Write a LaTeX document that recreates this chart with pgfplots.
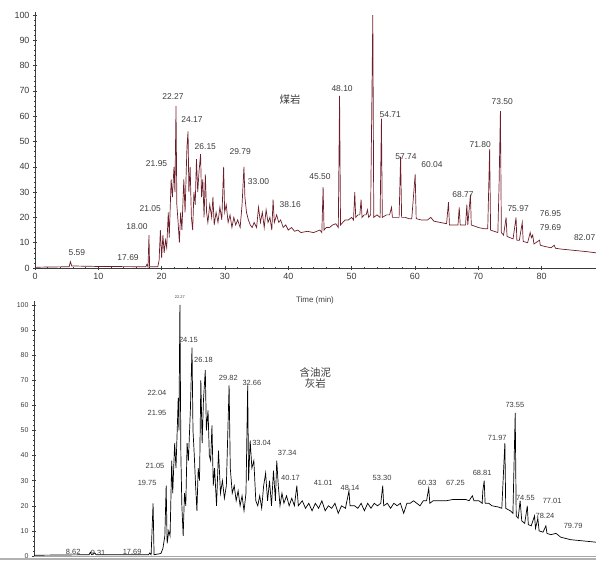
\documentclass[border=0pt]{standalone}
\usepackage{pgfplots}
\pgfplotsset{compat=1.18}
\usepackage{fontspec}
\setmainfont{Liberation Sans}
\newfontfamily\cjk{Noto Sans CJK SC}
\definecolor{trace}{RGB}{110,30,42}
\definecolor{lab}{RGB}{60,60,60}
\tikzset{pk/.style={font=\fontsize{8.5}{9}\selectfont, text=lab, inner sep=0.5pt},
  pkb/.style={font=\fontsize{7.5}{8}\selectfont, text=lab, inner sep=0.5pt}}
\begin{document}
\begin{tikzpicture}[x=1bp,y=1bp]
\useasboundingbox (0,0) rectangle (596,562);
% ---------------- top panel ----------------
\begin{axis}[at={(35bp,294bp)}, anchor=south west, scale only axis,
  width=561bp, height=255.5bp, xmin=0, xmax=88.6, ymin=0, ymax=101,
  axis lines=left, axis line style={-, lab, line width=0.5pt},
  xtick={0,10,...,80}, ytick={0,10,...,100}, minor tick num=4,
  tick align=center, major tick length=4pt, minor tick length=2.5pt,
  tick style={lab, line width=0.4pt},
  ticklabel style={font=\fontsize{9}{10}\selectfont, text=lab},
  /pgf/number format/assume math mode=true, clip=false]
\addplot[trace, line width=0.7pt] coordinates {
(0,0.3)(5.4,0.5)(5.59,2.5)(5.8,0.8)(10,0.6)(17.5,0.5)(17.69,1.5)(17.85,0.4)(18.0,13)(18.1,0.5)(19.4,0.5)(19.6,3)(19.8,15)(20.0,4)(20.2,13)(20.4,6)(20.6,11)(20.8,8)(21.05,22)(21.2,12)(21.5,35)(21.7,28)(21.95,40)(22.1,30)(22.27,64)(22.4,25)(22.6,18)(22.8,10)(23.0,22)(23.2,15)(23.5,35)(23.7,22)(24.0,48)(24.17,54)(24.3,30)(24.5,40)(24.7,20)(24.9,15)(25.1,30)(25.3,25)(25.5,43)(25.7,30)(25.9,38)(26.15,45)(26.3,28)(26.5,35)(26.7,20)(26.9,37)(27.1,22)(27.3,18)(27.6,25)(27.9,20)(28.1,28)(28.3,17)(28.6,22)(28.9,18)(29.2,24)(29.5,19)(29.79,40)(29.95,22)(30.2,25)(30.5,18)(30.8,21)(31.1,16)(31.4,20)(31.7,17)(32.0,19)(32.4,16)(32.7,25)(33.0,40)(33.15,28)(33.4,22)(33.7,19)(34.0,17)(34.3,16)(34.6,18)(35.0,16)(35.3,24)(35.6,18)(35.9,22)(36.2,16)(36.5,23)(36.8,18)(37.1,20)(37.4,15)(37.6,27)(37.8,18)(38.16,21)(38.5,18)(38.8,19)(39.2,16)(39.6,17)(40,15)(40.5,16)(41,14.5)(41.5,15)(42,14)(43,14.5)(44,14)(45,15)(45.3,14)(45.5,32)(45.65,15)(46,16)(46.5,16)(47,17)(47.5,17.5)(47.9,16)(48.1,68)(48.25,17)(48.6,18)(49,19)(49.5,19)(50,20)(50.3,19)(50.5,30)(50.65,20)(51,21)(51.3,21)(51.5,27)(51.65,20)(52,21)(52.3,21)(52.5,23)(52.7,20)(53.0,21)(53.35,100)(53.5,20)(54,21)(54.5,20)(54.71,59)(54.85,20)(55.5,21)(56,21)(56.3,24)(56.45,20)(57,20)(57.5,20)(57.74,44)(57.9,20)(58.5,20)(59,19.5)(59.5,19.5)(60.04,37)(60.2,19.5)(61,19)(62,19)(62.5,20)(63,18.5)(64,18)(65,17.5)(65.3,26)(65.45,17)(66,17)(66.8,17)(67,24)(67.15,17)(68,17)(68.2,25)(68.35,17)(68.77,29)(68.9,17)(69.5,16.5)(70,16)(71,15.5)(71.5,15.5)(71.8,47)(71.95,15)(72.5,14.5)(73.1,14)(73.3,34)(73.5,62)(73.65,14)(74.0,13)(74.4,20)(74.55,12.5)(75.0,12)(75.5,11.5)(75.97,20)(76.1,11)(76.5,11)(76.95,18)(77.1,10.5)(77.8,10)(78.2,14)(78.4,12)(78.6,13)(78.8,9.5)(79.69,11)(79.8,9)(80.5,8.5)(81.5,8)(82.0,9)(82.2,7.8)(83,7.5)(85,7)(87,6.5)(88.6,6)
};
\node[pk] at (axis cs:6.6,5.9) {5.59};
\node[pk] at (axis cs:14.7,4.3) {17.69};
\node[pk] at (axis cs:16.1,16.3) {18.00};
\node[pk] at (axis cs:18.2,23.6) {21.05};
\node[pk] at (axis cs:19.2,41.4) {21.95};
\node[pk] at (axis cs:21.8,67.6) {22.27};
\node[pk] at (axis cs:24.8,58.5) {24.17};
\node[pk] at (axis cs:26.9,48) {26.15};
\node[pk] at (axis cs:32.4,46) {29.79};
\node[pk] at (axis cs:35.3,34) {33.00};
\node[pk] at (axis cs:40.3,25) {38.16};
\node[pk] at (axis cs:45,36) {45.50};
\node[pk] at (axis cs:48.5,71) {48.10};
\node[pk] at (axis cs:56.1,60.5) {54.71};
\node[pk] at (axis cs:58.6,44) {57.74};
\node[pk] at (axis cs:62.7,40.7) {60.04};
\node[pk] at (axis cs:67.6,29) {68.77};
\node[pk] at (axis cs:70.3,48.6) {71.80};
\node[pk] at (axis cs:73.8,65.6) {73.50};
\node[pk] at (axis cs:76.3,23.6) {75.97};
\node[pk] at (axis cs:81.4,21.7) {76.95};
\node[pk] at (axis cs:81.4,15.8) {79.69};
\node[pk] at (axis cs:86.8,12.2) {82.07};
\node[font=\cjk\fontsize{10.5}{11}\selectfont, text=lab] at (axis cs:40.3,66.4) {煤岩};
\end{axis}
\node[font=\fontsize{8}{9}\selectfont, text=lab] at (315,262) {Time (min)};
% ---------------- bottom panel ----------------
\begin{axis}[at={(34bp,6bp)}, anchor=south west, scale only axis,
  width=562bp, height=254.8bp, xmin=0, xmax=85.9, ymin=0, ymax=101.5,
  axis y line=left, axis x line=bottom, axis line style={-, lab, line width=0.5pt},
  x axis line style={gray!70, line width=1pt},
  xtick=\empty, ytick={0,10,...,100}, minor y tick num=4,
  tick align=center, major tick length=4pt, minor tick length=2.5pt,
  tick style={lab, line width=0.4pt},
  ticklabel style={font=\fontsize{7}{8}\selectfont, text=lab},
  /pgf/number format/assume math mode=true, clip=false]
\addplot[black, line width=0.7pt] coordinates {
(0,0.3)(8.4,0.5)(8.62,1.5)(8.8,0.5)(9.31,1.2)(9.5,0.5)(17.5,0.5)(17.69,1.2)(17.9,0.5)(18.2,21)(18.35,0.5)(19.4,1)(19.7,3)(20.0,8)(20.2,28)(20.35,5)(20.6,10)(20.8,8)(21.05,38)(21.2,25)(21.5,45)(21.7,35)(21.95,55)(22.04,63)(22.15,50)(22.3,100)(22.45,40)(22.6,20)(22.8,8)(23.0,25)(23.2,20)(23.4,45)(23.6,38)(23.9,58)(24.15,83)(24.3,50)(24.5,40)(24.7,28)(24.9,18)(25.1,35)(25.3,30)(25.5,70)(25.7,45)(25.9,62)(26.18,74)(26.35,50)(26.6,58)(26.8,40)(27.0,38)(27.2,52)(27.4,28)(27.6,35)(27.9,20)(28.2,42)(28.5,25)(28.8,30)(29.1,23)(29.4,28)(29.82,68)(30.0,35)(30.3,25)(30.6,28)(30.9,22)(31.2,26)(31.5,20)(31.8,24)(32.1,18)(32.4,25)(32.66,68)(32.8,30)(33.04,46)(33.3,35)(33.6,38)(33.9,22)(34.2,20)(34.5,24)(34.8,19)(35.1,28)(35.4,33)(35.7,22)(36.0,30)(36.3,20)(36.6,34)(36.9,22)(37.1,38)(37.34,28)(37.6,20)(37.9,25)(38.2,21)(38.6,24)(39.0,20)(39.4,23)(39.8,20)(40.17,28)(40.4,20)(41,22)(41.5,19)(42,21)(42.5,18)(43,21)(43.5,19)(44,22)(44.5,18)(45,20)(45.5,19)(46,21)(46.5,17)(47,20)(47.6,19)(48.14,26)(48.3,20)(49,20)(49.5,19)(50,21)(50.5,18)(51,21)(51.5,19)(52,21)(52.5,20)(53.0,21)(53.30,28)(53.45,20)(54,21)(54.5,19)(55,21)(55.5,20)(56,21)(56.5,17)(57,21)(57.5,21)(58,22)(58.5,21)(59,20)(59.5,22)(60,22)(60.33,27)(60.5,21)(61,22)(61.5,22)(62,22)(63,22)(64,22.5)(65,22.5)(66,22.5)(66.5,22)(67,24)(67.25,22)(68,22)(68.5,21)(68.6,26)(68.81,30)(68.95,21)(69.5,21)(70,20)(71,19.5)(71.5,19)(71.97,45)(72.1,19)(72.8,18)(73.2,17)(73.55,57)(73.7,16)(74.0,15)(74.3,22)(74.55,14)(75,13)(75.4,20)(75.55,12.5)(76,12)(76.5,16)(76.65,11)(77.01,15)(77.2,10)(77.8,9.5)(78.24,12)(78.4,9)(79,8.5)(79.79,9)(80.5,7.5)(82,6.5)(84,6)(85.9,5.5)
};
\node[pkb] at (axis cs:6.0,1.8) {8.62};
\node[pkb] at (axis cs:9.8,1.4) {9.31};
\node[pkb] at (axis cs:15,1.8) {17.69};
\node[pkb] at (axis cs:22.3,103.2) {\fontsize{4}{4}\selectfont 22.27};
\node[pkb] at (axis cs:17.3,29) {19.75};
\node[pkb] at (axis cs:18.5,36) {21.05};
\node[pkb] at (axis cs:18.8,57) {21.95};
\node[pkb] at (axis cs:18.8,65) {22.04};
\node[pkb] at (axis cs:23.6,86) {24.15};
\node[pkb] at (axis cs:25.9,78) {26.18};
\node[pkb] at (axis cs:29.7,71) {29.82};
\node[pkb] at (axis cs:33.3,69) {32.66};
\node[pkb] at (axis cs:34.8,45) {33.04};
\node[pkb] at (axis cs:38.7,41) {37.34};
\node[pkb] at (axis cs:39.2,31) {40.17};
\node[pkb] at (axis cs:44.2,29) {41.01};
\node[pkb] at (axis cs:48.3,27) {48.14};
\node[pkb] at (axis cs:53.2,31) {53.30};
\node[pkb] at (axis cs:60.1,29) {60.33};
\node[pkb] at (axis cs:64.4,29) {67.25};
\node[pkb] at (axis cs:68.5,33) {68.81};
\node[pkb] at (axis cs:70.8,47) {71.97};
\node[pkb] at (axis cs:73.5,60) {73.55};
\node[pkb] at (axis cs:75.1,23) {74.55};
\node[pkb] at (axis cs:79.2,22) {77.01};
\node[pkb] at (axis cs:78.1,16) {78.24};
\node[pkb] at (axis cs:82.4,12) {79.79};
\node[font=\cjk\fontsize{10.5}{11}\selectfont, text=lab, align=center] at (axis cs:43,71) {含油泥\\灰岩};
\end{axis}
\draw[gray!60, line width=1.5pt] (0,3) -- (596,3);
\end{tikzpicture}
\end{document}
